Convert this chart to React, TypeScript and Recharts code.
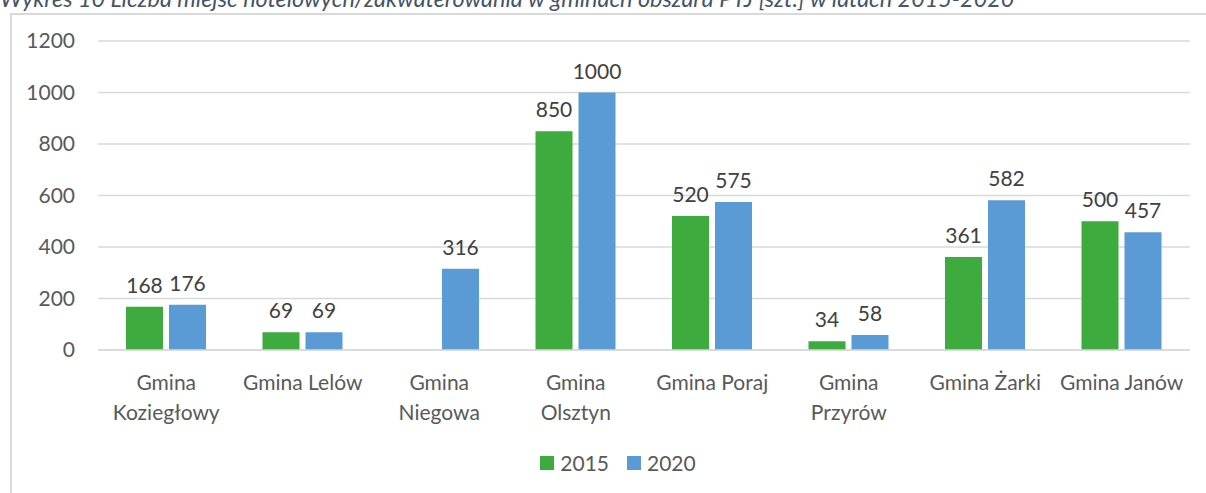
import React from "react"
import { BarChart, Bar, XAxis, YAxis, CartesianGrid, LabelList } from "recharts"

// Gminy (category keys) and their wrapped tick lines
const categories = [
  "Gmina Koziegłowy",
  "Gmina Lelów",
  "Gmina Niegowa",
  "Gmina Olsztyn",
  "Gmina Poraj",
  "Gmina Przyrów",
  "Gmina Żarki",
  "Gmina Janów",
]
const tickLines: string[][] = [
  ["Gmina", "Koziegłowy"],
  ["Gmina Lelów"],
  ["Gmina", "Niegowa"],
  ["Gmina", "Olsztyn"],
  ["Gmina Poraj"],
  ["Gmina", "Przyrów"],
  ["Gmina Żarki"],
  ["Gmina Janów"],
]
const values2015: (number | null)[] = [168, 69, null, 850, 520, 34, 361, 500]
const values2020: number[] = [176, 69, 316, 1000, 575, 58, 582, 457]
const yTicks = [0, 200, 400, 600, 800, 1000, 1200]

const TITLE =
  "Wykres 10 Liczba miejsc hotelowych/zakwaterowania w gminach obszaru PTJ [szt.] w latach 2015-2020"

const GREEN = "#3EAB3E"
const BLUE = "#5B9BD5"
const FONT = "Lato, 'Open Sans', sans-serif"

const data = categories.map((name, i) => ({
  name,
  y2015: values2015[i],
  y2020: values2020[i],
}))

const CategoryTick = ({ x, y, payload }: any) => {
  const idx = categories.indexOf(payload.value)
  const lines = tickLines[idx] || [payload.value]
  return (
    <text x={x} y={y} textAnchor="middle" fill="#595959" fontSize={21} fontFamily={FONT}>
      {lines.map((l, i) => (
        <tspan key={i} x={x} dy={i === 0 ? 38 : 30}>
          {l}
        </tspan>
      ))}
    </text>
  )
}

const LegendRow = () => (
  <div
    style={{
      position: "absolute",
      top: 450,
      left: 0,
      width: 1206,
      display: "flex",
      justifyContent: "center",
      gap: 18,
      fontFamily: FONT,
      fontSize: 21,
      color: "#595959",
      paddingLeft: 30,
      boxSizing: "border-box",
    }}
  >
    {[
      { label: "2015", color: GREEN },
      { label: "2020", color: BLUE },
    ].map((it) => (
      <div key={it.label} style={{ display: "flex", alignItems: "center", gap: 6 }}>
        <span style={{ width: 14, height: 14, background: it.color, display: "inline-block" }} />
        <span>{it.label}</span>
      </div>
    ))}
  </div>
)

export default function App() {
  return (
    <div style={{ position: "absolute", top: 0, left: 0, width: 1206, height: 493, overflow: "hidden", background: "#fff" }}>
      <div
        style={{
          position: "absolute",
          top: -16,
          left: 0,
          whiteSpace: "nowrap",
          fontFamily: FONT,
          fontStyle: "italic",
          fontSize: 23.4,
          color: "#44546A",
        }}
      >
        {TITLE}
      </div>
      <div
        style={{
          position: "absolute",
          top: 13,
          left: 10,
          width: 1210,
          height: 500,
          border: "2px solid #d9d9d9",
          boxSizing: "border-box",
        }}
      />
      <div style={{ position: "absolute", top: 0, left: 0 }}>
        <BarChart
          width={1206}
          height={493}
          data={data}
          margin={{ top: 41, right: 16, bottom: 113, left: 0 }}
          barGap={6}
        >
          <CartesianGrid vertical={false} stroke="#d9d9d9" strokeWidth={1.5} />
          <XAxis
            dataKey="name"
            height={30}
            axisLine={{ stroke: "#d9d9d9", strokeWidth: 1.5 }}
            tickLine={false}
            tickSize={0}
            interval={0}
            tick={<CategoryTick />}
          />
          <YAxis
            width={98}
            domain={[0, 1200]}
            ticks={yTicks}
            axisLine={false}
            tickLine={false}
            tickSize={0}
            tickMargin={23}
            tick={{ fill: "#595959", fontSize: 21, fontFamily: FONT }}
          />
          <Bar dataKey="y2015" fill={GREEN} barSize={37} isAnimationActive={false}>
            <LabelList dataKey="y2015" position="top" offset={14} fill="#404040" fontSize={21} fontFamily={FONT} />
          </Bar>
          <Bar dataKey="y2020" fill={BLUE} barSize={37} isAnimationActive={false}>
            <LabelList dataKey="y2020" position="top" offset={14} fill="#404040" fontSize={21} fontFamily={FONT} />
          </Bar>
        </BarChart>
      </div>
      <LegendRow />
    </div>
  )
}
